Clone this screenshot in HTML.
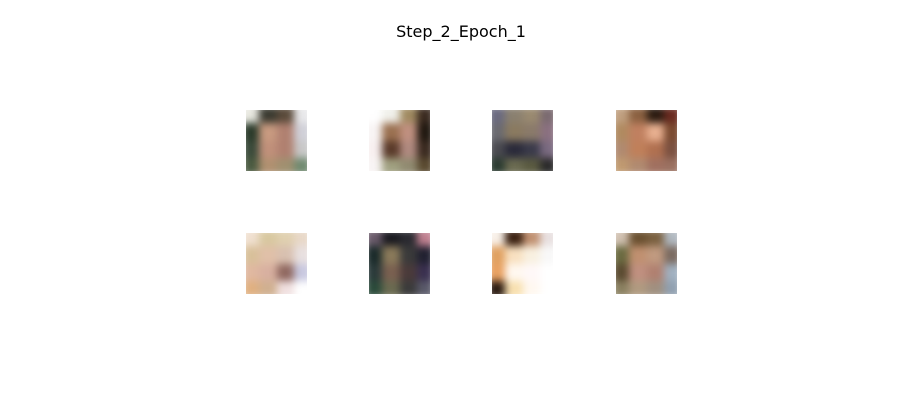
<!DOCTYPE html>
<html><head><meta charset="utf-8"><style>
body{margin:0;background:#fff;width:900px;height:400px;position:relative;overflow:hidden;font-family:"DejaVu Sans","Liberation Sans",sans-serif}
.title{position:absolute;left:0;width:922px;top:22px;text-align:center;font-size:16px;color:#000}
.img{position:absolute;width:61px;height:61px;overflow:hidden}
.grid{position:absolute;left:-4px;top:-4px;width:69px;height:69px;display:grid;grid-template-columns:repeat(4,1fr);grid-template-rows:repeat(4,1fr);filter:blur(4px)}
</style></head><body>
<div class="title">Step_2_Epoch_1</div>
<div id="root"></div>
<script>
const xs=[246,369,492,616];
const ys=[110,233];
const samples=[
["#e8e8e0","#3a3a30","#5a4a3a","#e8e8ea","#2a3a2a","#c89a80","#b08070","#d0d0d8","#3a4a3a","#c0907a","#b08070","#c8c8c8","#4a5a40","#b09070","#a09070","#708a70"],
["#ffffff","#f0f0ea","#a08a60","#3a2a20","#f8f4f4","#9a7050","#c09080","#201810","#f8f0f0","#5a3a2a","#b08a80","#3a2a20","#f8f4f4","#a0a080","#908a70","#5a4a30"],
["#6a6a80","#8a8070","#9a8a70","#7a6a70","#6a6a70","#8a7a60","#8a7a6a","#8a7080","#4a4a50","#2a2a3a","#3a3a4a","#7a6a80","#2a3a30","#6a6a50","#5a5a40","#2a2a2a"],
["#c0a080","#8a6040","#2a1a10","#6a2a20","#b08a60","#c08060","#e8b090","#7a4a30","#b08a70","#c0805a","#b07050","#7a5040","#c09a70","#b08a70","#a07060","#9a7060"],
["#f0e0d0","#d8c8a0","#e0d0b0","#e8d8c8","#d8c09a","#e0c0a8","#d8c0b0","#e8e0e0","#e0b8a0","#d8b0a0","#906860","#c8c8e0","#e0b080","#d0b090","#f0e0e0","#ffffff"],
["#6a5a6a","#1a1a20","#2a2a30","#c08090","#1a2a2a","#8a7a5a","#3a3a3a","#202030","#2a3a3a","#7a6050","#4a3a3a","#3a3050","#2a4a3a","#6a6a50","#3a3a3a","#5a5a6a"],
["#f8f0e8","#3a2010","#c09070","#e8e0e0","#e0a060","#f8e0c0","#f8f0e0","#f8f8f8","#e8a060","#fff8f0","#fff8f8","#ffffff","#2a1a10","#f8e0b0","#fff8f0","#ffffff"],
["#d0c0b0","#6a5030","#7a6040","#b0b8c0","#6a6a40","#c09070","#c09a80","#7a6a60","#5a4a30","#c09080","#b08070","#a0b0c0","#8a8060","#b09a80","#a09080","#90a0b0"]
];
const root=document.getElementById('root');
samples.forEach((cols,i)=>{
  const d=document.createElement('div');
  d.className='img';
  
  
  d.style.left=xs[i%4]+'px';d.style.top=ys[Math.floor(i/4)]+'px';
  const g=document.createElement('div');g.className='grid';
  cols.forEach(c=>{const s=document.createElement('div');s.style.background=c;g.appendChild(s);});
  d.appendChild(g);root.appendChild(d);
});
</script>
</body></html>
